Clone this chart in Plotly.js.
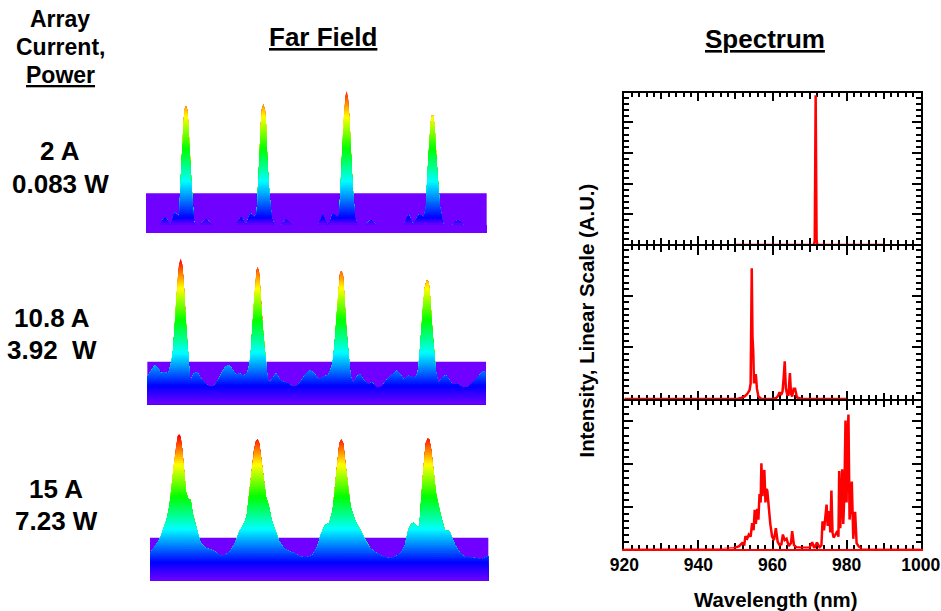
<!DOCTYPE html>
<html>
<head>
<meta charset="utf-8">
<script src="https://cdn.plot.ly/plotly-3.0.1.min.js"></script>
<style>html,body{margin:0;padding:0;background:#fff}#g{width:941px;height:611px}</style>
</head>
<body>
<div id="g"></div>
<script>
// Far-field profiles: angle (arb.) and intensity (arb.)
const ffAngle1 = [48,90,98,105,112,120,126,130,135,140,145,148,150,153,157,160,163,168,172,175,178,182,186,190,193,210,220,228,236,245,318,326,333,340,348,352,357,362,367,372,380,384,388,392,395,400,405,408,412,418,425,432,455,462,468,475,485,565,572,578,584,592,600,605,610,616,622,628,632,637,642,646,650,654,658,663,668,675,682,708,716,722,730,738,822,829,835,841,849,855,862,868,875,882,888,892,897,902,905,910,914,918,924,930,940,968,976,984,992,1000,1070];
const ffRow1   = [435,435,420,412,420,435,425,405,397,403,410,400,340,280,200,130,90,78,90,130,200,280,340,400,435,435,424,418,424,435,435,420,410,420,435,425,408,400,405,412,400,330,240,140,90,73,90,130,240,340,410,435,435,424,418,424,435,435,415,402,415,435,425,408,400,405,412,400,320,200,100,50,32,55,110,220,320,410,435,435,425,420,425,435,435,415,403,415,435,425,410,403,406,412,380,290,200,130,107,107,140,220,310,380,435,435,425,420,425,435,435];
const ffAngle2 = [52,58,65,75,85,92,100,115,122,128,133,138,143,147,152,157,161,165,170,175,180,185,192,202,212,225,240,250,262,275,285,297,305,318,328,340,352,358,362,367,372,377,380,383,387,390,395,402,408,413,420,428,438,450,462,475,488,500,512,525,540,552,565,580,595,605,610,615,620,625,630,634,639,643,648,655,662,670,680,690,700,715,725,740,755,770,785,800,812,822,835,855,863,868,873,878,884,890,896,900,905,911,918,925,935,947,958,968,980,1000,1015,1030,1045,1058,1068];
const ffRow2   = [395,385,375,360,370,385,382,385,360,330,260,180,100,60,40,60,110,190,270,330,405,400,385,382,400,415,425,425,410,385,365,360,370,390,385,392,385,360,330,250,170,100,75,67,80,120,210,300,350,405,412,400,385,405,412,415,425,422,410,390,376,385,403,395,390,365,340,280,210,140,85,77,90,150,240,320,395,415,395,387,405,418,412,428,425,405,390,377,390,405,392,398,385,340,270,190,130,106,110,150,230,310,380,415,400,390,405,420,415,428,425,410,395,378,382];
const ffAngle3 = [60,70,85,92,100,110,118,125,132,138,143,148,152,157,162,168,175,182,188,195,205,212,225,240,255,270,285,300,315,328,340,350,358,365,372,378,383,388,393,400,408,417,425,435,448,462,480,495,510,530,548,562,572,585,598,608,616,623,628,634,640,646,654,662,675,690,705,720,740,760,780,800,815,825,835,845,852,860,868,873,880,887,893,898,904,910,918,928,938,945,958,965,975,990,1005,1030,1055,1075];
const ffRow3   = [400,385,365,350,325,300,260,200,130,80,48,42,50,90,150,215,237,240,280,310,345,370,383,388,395,407,405,395,370,335,315,290,220,160,90,62,58,70,110,170,230,260,300,330,365,385,395,400,410,412,405,380,345,315,310,270,200,120,70,58,70,130,200,260,300,330,360,385,400,410,415,408,395,375,330,310,308,318,322,240,150,70,55,58,90,150,220,270,310,332,333,350,375,400,412,413,418,408];
const ffBase = [458,478,482];          // row of zero intensity
const ffPlane = [[48,1070,340],[52,1068,350],[60,1075,353]]; // back plane extents

// Spectra: wavelength (nm), intensity (A.U.)
const wl1 = [950,971.2,971.4,971.65,971.9,972.1,990];
const sp1 = [0,0,.03,.977,.03,0,0];
const wl2 = [920,940,948,950.5,951.5,952.5,953.2,953.8,954.1,954.4,954.6,954.8,955.0,955.2,955.5,955.8,956.2,957,960,961,961.5,961.9,962.3,962.7,963.0,963.3,963.6,964,964.3,964.7,965.0,965.3,965.7,966.1,966.6,968,980];
const sp2 = [0,0,0,0,.02,.05,.1,.17,.3,2.53,1.2,.94,.3,.45,.475,.2,.05,0,0,.02,.06,.13,.08,.14,.4,.73,.2,.08,.08,.5,.1,.05,.2,.2,.03,0,0];
const wl3 = [920,945,947,949.6,951,951.8,952.4,952.7,953.2,953.6,954.1,954.5,954.9,955.2,955.5,955.9,956.2,956.5,956.8,957.0,957.3,957.5,957.8,958.1,958.3,958.6,959,959.4,959.9,960.4,960.9,961.4,961.9,962.4,962.8,963.3,963.8,964.4,965.0,965.3,965.8,966.5,968,970,970.7,971.3,972,972.7,973.2,973.5,973.9,974.2,974.6,974.9,975.3,975.6,975.9,976.2,976.5,977,977.5,977.8,978,978.3,978.6,978.8,979.1,979.4,979.7,980,980.2,980.5,980.8,981.1,981.4,981.8,982.3,982.7,983.2,984,986,1000];
const sp3 = [0,0,.01,.03,.08,.15,.12,.31,.26,.35,.3,.62,.45,.93,.6,.95,.7,1.3,1.1,2.02,1.25,1.7,1.86,1.1,1.42,1.38,.9,.6,.3,.22,.5,.18,.1,.12,.35,.22,.25,.08,.15,.43,.1,.05,.04,.04,.17,.03,.16,.05,.1,.66,.45,.72,1.05,.55,.9,.4,1.38,.4,.28,.35,.43,.3,1.84,.5,1.2,1.88,.6,1.3,3.02,1.1,2.5,3.16,.7,1.0,1.59,.25,.88,.15,.08,.01,0,0];

const wavelengthTicks = [920,940,960,980,1000];

// Texts
const headings = ["Far Field","Spectrum"];
const headCol = ["Array","Current,","Power"];
const rowLabels = [["2 A","0.083 W"],["10.8 A","3.92\u00a0 W"],["15 A","7.23 W"]];
const xTitle = "Wavelength (nm)";
const yTitle = "Intensity, Linear Scale (A.U.)";

// Colour ramp: height → colour
const ramp = [[0,[112,0,255]],[55,[0,0,255]],[155,[0,255,255]],[252,[0,255,0]],[348,[255,255,0]],[435,[255,0,0]]];
function colorAt(h, floor, blue){
  const stops = ramp.map(s=>s.slice()); stops[0][0]=floor; stops[1][0]=blue;
  if(h<=stops[0][0]) return 'rgb('+stops[0][1].join(',')+')';
  for(let i=1;i<stops.length;i++){
    if(h<=stops[i][0]){
      const t=(h-stops[i-1][0])/(stops[i][0]-stops[i-1][0]);
      const c=stops[i-1][1].map((v,k)=>Math.round(v+(stops[i][1][k]-v)*t));
      return 'rgb('+c.join(',')+')';
    }
  }
  return 'rgb(255,0,0)';
}
function clipProfile(xs,hs,L){
  const X=[],Y=[];
  for(let i=0;i<xs.length;i++){
    if(i>0 && (hs[i-1]-L)*(hs[i]-L)<0){
      const t=(L-hs[i-1])/(hs[i]-hs[i-1]);
      X.push(xs[i-1]+t*(xs[i]-xs[i-1])); Y.push(L);
    }
    X.push(xs[i]); Y.push(Math.min(hs[i],L));
  }
  return [X,Y];
}
const data=[];
function addFarField(n,xs,rows,floor,blue){
  const base=ffBase[n-1], hs=rows.map(r=>base-r), p=ffPlane[n-1];
  const ax={xaxis:'x'+(n===1?'':n),yaxis:'y'+(n===1?'':n)};
  data.push(Object.assign({x:[p[0],p[1]],y:[base-p[2],base-p[2]],mode:'lines',line:{width:0},fill:'tozeroy',fillcolor:'rgb(112,0,255)',hoverinfo:'skip',showlegend:false},ax));
  const top=Math.max(...hs), step=6;
  for(let L=Math.ceil(top/step)*step;L>0;L-=step){
    const [X,Y]=clipProfile(xs,hs,L);
    data.push(Object.assign({x:X,y:Y,mode:'lines',line:{width:0},fill:'tozeroy',fillcolor:colorAt(L-step/2,floor,blue),hoverinfo:'skip',showlegend:false},ax));
  }
}
addFarField(1,ffAngle1,ffRow1,23,46);
addFarField(2,ffAngle2,ffRow2,0,55);
addFarField(3,ffAngle3,ffRow3,0,55);

function addSpec(xs,ys,xa,ya,w){
  data.push({x:xs,y:ys,xaxis:xa,yaxis:ya,mode:'lines',line:{color:'#ff0000',width:w},cliponaxis:false,hoverinfo:'skip',showlegend:false});
}
// subplot ids are ordered so that each baseline falls where the reference shows it
addSpec(wl3,sp3,'x4','y4',2.5);
addSpec(wl1,sp1,'x5','y5',2.5);
addSpec(wl2,sp2,'x6','y6',2.5);
// carriers for the longer 20 nm ticks
[['x7','y4'],['x8','y5'],['x9','y6']].forEach(a=>data.push({x:[920],y:[null],xaxis:a[0],yaxis:a[1],mode:'lines',hoverinfo:'skip',showlegend:false}));

const W=941,H=611;
const dx=[624.3/W,920.7/W];
const hidden=(dom,range)=>({domain:dom,range:range,visible:false,fixedrange:true});
const yd=(a,b)=>[1-b/H,1-a/H];
const xFine=(anchor)=>({domain:dx,range:[920,1000],anchor:anchor,ticks:'inside',tick0:920,dtick:10,ticklen:6,tickwidth:2,tickcolor:'#000',showticklabels:false,showline:true,linecolor:'#000',linewidth:2,mirror:'ticks',showgrid:false,zeroline:false,layer:'below traces',minor:{ticks:'inside',tick0:920,dtick:2,ticklen:4,tickwidth:2,tickcolor:'#000',showgrid:false}});
const xMajor=(over,anchor)=>({domain:dx,range:[920,1000],anchor:anchor,overlaying:over,ticks:'inside',tickmode:'array',tickvals:wavelengthTicks,ticktext:wavelengthTicks.map(String),ticklen:8.5,tickwidth:2,tickcolor:'#000',showticklabels:false,showline:false,mirror:'ticks',showgrid:false,zeroline:false,layer:'below traces'});
const yAxis=(dom,range,major,minor,anchor)=>({domain:dom,range:range,anchor:anchor,ticks:'inside',tick0:0,dtick:major,ticklen:8.5,tickwidth:2,tickcolor:'#000',showticklabels:false,showline:true,linecolor:'#000',linewidth:2,mirror:'ticks',showgrid:false,zeroline:false,layer:'below traces',minor:{ticks:'inside',tick0:0,dtick:minor,ticklen:5,tickwidth:2,tickcolor:'#000',showgrid:false}});

const font={family:'"Liberation Sans", Arial, sans-serif',color:'#000'};
const note=(txt,px,py,size,angle)=>({text:'<b>'+txt+'</b>',xref:'paper',yref:'paper',x:px/W,y:1-py/H,xanchor:'center',yanchor:'middle',textangle:angle||0,showarrow:false,font:Object.assign({},font,{size:size})});
const annotations=[
  note('<u>'+headings[0]+'</u>',323,37,26),
  note('<u>'+headings[1]+'</u>',765,39,26),
  note(headCol[0],60,19,23),
  note(headCol[1],60,47,23),
  note('<u>'+headCol[2]+'</u>',60,75,23),
  note(rowLabels[0][0],60,151,26),
  note(rowLabels[0][1],60,184,26),
  note(rowLabels[1][0],52,318,26),
  note(rowLabels[1][1],52,350,26),
  note(rowLabels[2][0],56,489,26),
  note(rowLabels[2][1],56,521,26),
  note(xTitle,776,600,20.4),
  note(yTitle,586,320.5,20.4,-90)
];

const layout={
  width:W,height:H,margin:{l:0,r:0,t:0,b:0},paper_bgcolor:'#fff',plot_bgcolor:'rgba(0,0,0,0)',showlegend:false,font:font,
  xaxis:hidden([130/W,500/W],[0,1110]),
  yaxis:hidden(yd(80,245),[-37,458]),
  xaxis2:Object.assign(hidden([130/W,500/W],[0,1110]),{anchor:'y2'}),
  yaxis2:Object.assign(hidden(yd(245,415),[-32,478]),{anchor:'x2'}),
  xaxis3:Object.assign(hidden([130/W,500/W],[0,1110]),{anchor:'y3'}),
  yaxis3:Object.assign(hidden(yd(420,590),[-28,482]),{anchor:'x3'}),
  xaxis4:Object.assign(xFine('y4'),{linecolor:'#ff0000'}),
  xaxis5:xFine('y5'),
  xaxis6:xFine('y6'),
  xaxis7:Object.assign(xMajor('x4','y4'),{showticklabels:true,ticklabelposition:'outside',ticklabeloverflow:'allow',ticklabelstandoff:4,tickfont:Object.assign({},font,{size:17.5,weight:'bold'})}),
  xaxis8:xMajor('x5','y5'),
  xaxis9:xMajor('x6','y6'),
  yaxis4:yAxis(yd(401,548.5),[.023,3.477],1,1/6,'x4'),
  yaxis5:yAxis(yd(92.7,244),[.0065,.9935],.2,.04,'x5'),
  yaxis6:yAxis(yd(246,399),[0,2.96],1,.125,'x6'),
  annotations:annotations
};
Plotly.newPlot('g',data,layout,{displayModeBar:false,staticPlot:true});
</script>
</body>
</html>
